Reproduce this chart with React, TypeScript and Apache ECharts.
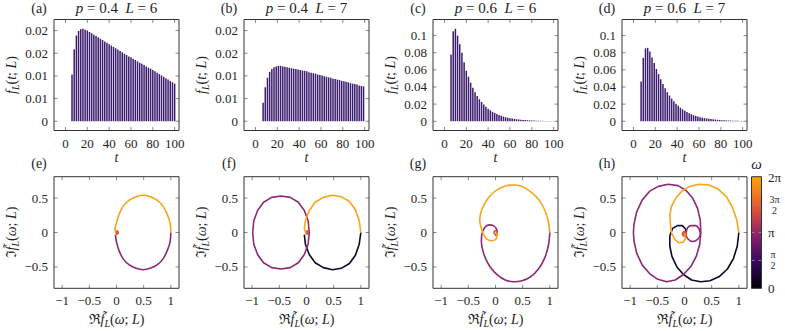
import React, { useEffect, useRef } from 'react';
import * as echarts from 'echarts';

const FONT = '"Liberation Serif", "DejaVu Serif", serif';
const TXT = '#1e1e1e';
const TICK = '#8a8a8a';
const FRAME = '#333333';

// ---- top row data: first-passage time distributions ----
const evenT = [6, 8, 10, 12, 14, 16, 18, 20, 22, 24, 26, 28, 30, 32, 34, 36, 38, 40, 42, 44, 46, 48, 50, 52, 54, 56, 58, 60, 62, 64, 66, 68, 70, 72, 74, 76, 78, 80, 82, 84, 86, 88, 90, 92, 94, 96, 98, 100];
const oddT = [7, 9, 11, 13, 15, 17, 19, 21, 23, 25, 27, 29, 31, 33, 35, 37, 39, 41, 43, 45, 47, 49, 51, 53, 55, 57, 59, 61, 63, 65, 67, 69, 71, 73, 75, 77, 79, 81, 83, 85, 87, 89, 91, 93, 95, 97, 99];

const fA = [0.0103, 0.0159, 0.0189, 0.0199, 0.0203, 0.0204, 0.0202, 0.0200, 0.0197, 0.0194, 0.0191, 0.0188, 0.0185, 0.0182, 0.0179, 0.0176, 0.0173, 0.0170, 0.0167, 0.0164, 0.0161, 0.0158, 0.0155, 0.0152, 0.0149, 0.0146, 0.0143, 0.0141, 0.0138, 0.0135, 0.0132, 0.0129, 0.0127, 0.0124, 0.0121, 0.0118, 0.0116, 0.0113, 0.0110, 0.0107, 0.0104, 0.0101, 0.0098, 0.0095, 0.0092, 0.0089, 0.0086, 0.0083];
const fB = [0.0041, 0.0075, 0.0096, 0.0109, 0.0115, 0.0119, 0.0121, 0.0122, 0.0122, 0.0121, 0.0120, 0.0119, 0.0118, 0.0117, 0.0116, 0.0115, 0.0114, 0.0113, 0.0112, 0.0111, 0.0110, 0.0108, 0.0107, 0.0106, 0.0105, 0.0103, 0.0102, 0.0101, 0.0099, 0.0098, 0.0097, 0.0096, 0.0094, 0.0093, 0.0092, 0.0091, 0.0089, 0.0088, 0.0087, 0.0086, 0.0084, 0.0083, 0.0082, 0.0081, 0.0079, 0.0078, 0.0077];
const fC = [0.078, 0.105, 0.108, 0.100, 0.090, 0.080, 0.069, 0.059, 0.052, 0.045, 0.039, 0.034, 0.0295, 0.0257, 0.0224, 0.0195, 0.0169, 0.0147, 0.0128, 0.0111, 0.0097, 0.0084, 0.0073, 0.0063, 0.0055, 0.0048, 0.0042, 0.0036, 0.0031, 0.0027, 0.0024, 0.0021, 0.0018, 0.0016, 0.0014, 0.0012, 0.0010, 0.0009, 0.0008, 0.0007, 0.0006, 0.0005, 0.00045, 0.0004, 0.00035, 0.0003, 0.00026, 0.00022];
const fD = [0.0465, 0.074, 0.085, 0.0857, 0.0814, 0.0745, 0.068, 0.061, 0.055, 0.049, 0.0435, 0.0385, 0.034, 0.030, 0.0265, 0.0233, 0.0205, 0.018, 0.0158, 0.0139, 0.0122, 0.0107, 0.0094, 0.0082, 0.0072, 0.0063, 0.0055, 0.0048, 0.0042, 0.0037, 0.0032, 0.0028, 0.0025, 0.0022, 0.0019, 0.0017, 0.0015, 0.0013, 0.0011, 0.0010, 0.0009, 0.0008, 0.0007, 0.0006, 0.0005, 0.00045, 0.0004];

// ---- tick values / labels ----
const xTicksTop = [0, 20, 40, 60, 80, 100];
const xLabelsTop = ['0', '20', '40', '60', '80', '100'];
const yTicksAB = [0, 0.005, 0.01, 0.015, 0.02];
const yLabelsAB = ['0', '0.01', '0.01', '0.02', '0.02'];
const yTicksCD = [0, 0.02, 0.04, 0.06, 0.08, 0.1];
const yLabelsCD = ['0', '0.02', '0.04', '0.06', '0.08', '0.1'];
const xTicksBot = [-1, -0.5, 0, 0.5, 1];
const xLabelsBot = ['\u22121', '\u22120.5', '0', '0.5', '1'];
const yTicksBot = [-0.5, 0, 0.5];
const yLabelsBot = ['\u22120.5', '0', '0.5'];
const cbTicks = [1, 2, 3]; // quarter turns: π/2, π, 3π/2

// ---- bottom row: parametric curves, coloured by omega ----
const C_BLACK = '#0c0826';
const C_MAG = '#8d2872';
const C_RED = '#e2572f';
const C_ORANGE = '#f9a41b';

const eMag = [[-0.02, -0.03], [0.0, -0.14], [0.05, -0.27], [0.13, -0.39], [0.235, -0.47], [0.36, -0.52], [0.49, -0.54], [0.62, -0.52], [0.745, -0.47], [0.85, -0.39], [0.93, -0.27], [0.985, -0.14], [1.0, 0.0]];
const eOrange = [[1.0, 0.0], [0.985, 0.14], [0.93, 0.27], [0.85, 0.39], [0.745, 0.47], [0.62, 0.52], [0.49, 0.54], [0.36, 0.52], [0.235, 0.47], [0.13, 0.39], [0.05, 0.27], [0.0, 0.14], [-0.03, 0.05], [-0.01, 0.0]];
const eRed = [[-0.01, 0.0], [0.01, 0.02], [0.03, 0.0], [0.01, -0.02], [-0.01, 0.0]];

const fBlack = [[1.0, 0.0], [0.97, -0.17], [0.9, -0.33], [0.79, -0.45], [0.64, -0.52], [0.48, -0.54], [0.31, -0.51], [0.16, -0.44], [0.05, -0.32], [-0.02, -0.17], [-0.04, -0.03]];
const fMag = [[0.05, 0.0], [0.03, 0.17], [-0.04, 0.32], [-0.15, 0.44], [-0.3, 0.51], [-0.47, 0.53], [-0.64, 0.51], [-0.79, 0.44], [-0.9, 0.32], [-0.97, 0.17], [-0.99, 0.0], [-0.97, -0.17], [-0.9, -0.32], [-0.79, -0.44], [-0.64, -0.51], [-0.47, -0.53], [-0.3, -0.51], [-0.15, -0.44], [-0.04, -0.32], [0.03, -0.17], [0.05, 0.0]];
const fOrange = [[-0.01, 0.0], [-0.04, 0.05], [-0.02, 0.17], [0.05, 0.32], [0.16, 0.44], [0.31, 0.51], [0.48, 0.54], [0.64, 0.52], [0.79, 0.45], [0.9, 0.33], [0.97, 0.17], [1.0, 0.0]];
const fRed = [[-0.01, 0.0], [0.01, 0.02], [0.03, 0.0], [0.01, -0.02], [-0.01, 0.0]];

const gMag = [[1.0, 0.0], [0.97, -0.2], [0.9, -0.38], [0.79, -0.53], [0.65, -0.64], [0.49, -0.7], [0.33, -0.715], [0.18, -0.69], [0.04, -0.62], [-0.08, -0.52], [-0.17, -0.4], [-0.23, -0.27], [-0.26, -0.13], [-0.25, -0.02], [-0.2, 0.07], [-0.12, 0.11], [-0.04, 0.1], [0.02, 0.05], [0.03, -0.01], [0.0, -0.05]];
const gRed = [[0.03, 0.0], [0.0, 0.03], [-0.03, 0.0], [0.0, -0.03], [0.03, 0.0]];
const gOrange = [[0.03, 0.0], [0.02, -0.08], [-0.06, -0.12], [-0.15, -0.1], [-0.22, -0.03], [-0.26, 0.06], [-0.29, 0.17], [-0.27, 0.29], [-0.2, 0.42], [-0.09, 0.54], [0.05, 0.63], [0.2, 0.68], [0.33, 0.69], [0.48, 0.67], [0.63, 0.6], [0.77, 0.5], [0.88, 0.37], [0.96, 0.2], [1.0, 0.0]];

const hBlack = [[1.0, 0.0], [0.97, -0.2], [0.9, -0.38], [0.79, -0.53], [0.64, -0.64], [0.47, -0.7], [0.3, -0.715], [0.13, -0.69], [-0.02, -0.61], [-0.14, -0.5], [-0.23, -0.35], [-0.27, -0.2], [-0.27, -0.05], [-0.22, 0.06], [-0.13, 0.1], [-0.04, 0.1], [0.02, 0.05], [0.03, -0.02]];
const hMagSmall = [[0.03, -0.02], [0.05, 0.06], [0.12, 0.1], [0.2, 0.1], [0.27, 0.05], [0.29, -0.03], [0.24, -0.1], [0.15, -0.13], [0.06, -0.09], [0.02, -0.02]];
const hMagBig = [[0.3, 0.0], [0.29, 0.18], [0.24, 0.35], [0.15, 0.5], [0.03, 0.61], [-0.12, 0.68], [-0.3, 0.7], [-0.48, 0.67], [-0.64, 0.6], [-0.78, 0.47], [-0.88, 0.3], [-0.93, 0.12], [-0.94, 0.0], [-0.93, -0.12], [-0.88, -0.3], [-0.78, -0.47], [-0.64, -0.6], [-0.49, -0.68], [-0.33, -0.715], [-0.17, -0.69], [-0.02, -0.61], [0.12, -0.49], [0.22, -0.34], [0.28, -0.17], [0.3, 0.0]];
const hOrange = [[0.0, -0.02], [0.02, -0.08], [-0.02, -0.14], [-0.1, -0.15], [-0.18, -0.1], [-0.24, 0.0], [-0.26, 0.12], [-0.27, 0.25], [-0.24, 0.38], [-0.16, 0.5], [-0.05, 0.6], [0.1, 0.67], [0.27, 0.7], [0.45, 0.69], [0.62, 0.63], [0.77, 0.52], [0.88, 0.37], [0.96, 0.19], [1.0, 0.0]];
const hRed = [[0.03, -0.02], [0.0, 0.01], [-0.03, -0.02], [0.0, -0.05], [0.03, -0.02]];

// ---- layout ----
const LEFTS = [54, 244, 433, 622];
const BOX_W = 125;
const ROWS = [{ top: 19.5, height: 111 }, { top: 176.7, height: 111.6 }];
const X_TOP = [-10.5, 104];
const Y_AB = [-0.00204, 0.02244];
const Y_CD = [-0.0108, 0.1188];
const X_BOT = [-1.15, 1.15];
const Y_BOT = [-0.81, 0.81];
const TICK_PX = 3.5;
const CB = { x: 751.5, w: 10 };

const RICH: any = {
  i: { fontFamily: FONT, fontStyle: 'italic', fontSize: 14, color: TXT, lineHeight: 18, verticalAlign: 'middle' },
  r: { fontFamily: FONT, fontSize: 14, color: TXT, lineHeight: 18, verticalAlign: 'middle' },
  s: { fontFamily: FONT, fontStyle: 'italic', fontSize: 10, color: TXT, verticalAlign: 'bottom' },
};

const NAME_T = '{i|t}';
const NAME_F = '{i|f}{s|L}{r|(}{i|t}{r|; }{i|L}{r|)}';
const NAME_RE = '{r|\u211C}{i|f\u0303}{s|L}{r|(}{i|\u03C9}{r|; }{i|L}{r|)}';
const NAME_IM = '{r|\u2111}{i|f\u0303}{s|L}{r|(}{i|\u03C9}{r|; }{i|L}{r|)}';

const fmt = (ticks: number[], labels: string[]) => (v: number) => {
  let best = 0;
  for (let k = 0; k < ticks.length; k++) if (Math.abs(ticks[k] - v) < Math.abs(ticks[best] - v)) best = k;
  return labels[best];
};

type Panel = {
  tag: string; row: number; col: number; title?: string;
  bars?: { t: number[]; v: number[] }; yr: number[]; curves?: { pts: number[][]; color: string; smooth: boolean; w?: number }[];
};

const PANELS: Panel[] = [
  { tag: '(a)', row: 0, col: 0, title: '{i|p} = 0.4  {i|L} = 6', bars: { t: evenT, v: fA }, yr: Y_AB },
  { tag: '(b)', row: 0, col: 1, title: '{i|p} = 0.4  {i|L} = 7', bars: { t: oddT, v: fB }, yr: Y_AB },
  { tag: '(c)', row: 0, col: 2, title: '{i|p} = 0.6  {i|L} = 6', bars: { t: evenT, v: fC }, yr: Y_CD },
  { tag: '(d)', row: 0, col: 3, title: '{i|p} = 0.6  {i|L} = 7', bars: { t: oddT, v: fD }, yr: Y_CD },
  { tag: '(e)', row: 1, col: 0, yr: Y_BOT, curves: [
    { pts: eMag, color: C_MAG, smooth: true }, { pts: eRed, color: C_RED, smooth: true, w: 2 }, { pts: eOrange, color: C_ORANGE, smooth: true }] },
  { tag: '(f)', row: 1, col: 1, yr: Y_BOT, curves: [
    { pts: fBlack, color: C_BLACK, smooth: false }, { pts: fMag, color: C_MAG, smooth: false }, { pts: fRed, color: C_RED, smooth: true, w: 2 }, { pts: fOrange, color: C_ORANGE, smooth: false }] },
  { tag: '(g)', row: 1, col: 2, yr: Y_BOT, curves: [
    { pts: gMag, color: C_MAG, smooth: true }, { pts: gRed, color: C_RED, smooth: true, w: 1.6 }, { pts: gOrange, color: C_ORANGE, smooth: true }] },
  { tag: '(h)', row: 1, col: 3, yr: Y_BOT, curves: [
    { pts: hBlack, color: C_BLACK, smooth: false }, { pts: hMagSmall, color: C_MAG, smooth: true }, { pts: hMagBig, color: C_MAG, smooth: false },
    { pts: hRed, color: C_RED, smooth: true, w: 2.5 }, { pts: hOrange, color: C_ORANGE, smooth: false }] },
];

const ticksOf = (p: Panel) => {
  const isTop = p.row === 0;
  return {
    xr: isTop ? X_TOP : X_BOT,
    xt: isTop ? xTicksTop : xTicksBot,
    xl: isTop ? xLabelsTop : xLabelsBot,
    yt: isTop ? (p.yr === Y_AB ? yTicksAB : yTicksCD) : yTicksBot,
    yl: isTop ? (p.yr === Y_AB ? yLabelsAB : yLabelsCD) : yLabelsBot,
  };
};

// a plain polyline drawn as an ordinary line series (frames, ticks, rules)
const rule = (idx: number, pts: number[][], color: string, width: number) => ({
  type: 'line', xAxisIndex: idx, yAxisIndex: idx, data: pts, showSymbol: false, symbol: 'none',
  clip: false, silent: true, z: 5, lineStyle: { color, width, opacity: 1 },
});

function buildOption() {
  const grid: any[] = [];
  const xAxis: any[] = [];
  const yAxis: any[] = [];
  const series: any[] = [];
  const graphic: any[] = [];

  PANELS.forEach((p, i) => {
    const row = ROWS[p.row];
    const left = LEFTS[p.col];
    grid.push({ left, top: row.top, width: BOX_W, height: row.height });
    const isTop = p.row === 0;
    const { xr, xt, xl, yt, yl } = ticksOf(p);
    const yr = p.yr;
    const label = () => ({ fontFamily: FONT, fontSize: 13, color: TXT, margin: 6 });

    xAxis.push({
      gridIndex: i, type: 'value', position: 'bottom', min: xr[0], max: xr[1],
      axisLine: { show: false, onZero: false }, splitLine: { show: false }, axisTick: { show: false },
      axisLabel: { ...label(), customValues: xt, formatter: fmt(xt, xl) },
      name: isTop ? NAME_T : NAME_RE, nameLocation: 'middle', nameGap: isTop ? 18 : 22,
      nameTextStyle: { rich: RICH },
    });
    yAxis.push({
      gridIndex: i, type: 'value', position: 'left', min: yr[0], max: yr[1],
      axisLine: { show: false, onZero: false }, splitLine: { show: false }, axisTick: { show: false },
      axisLabel: { ...label(), customValues: yt, formatter: fmt(yt, yl) },
      name: isTop ? NAME_F : NAME_IM, nameLocation: 'middle', nameGap: 34, nameRotate: 90,
      nameTextStyle: { rich: RICH },
    });

    if (p.bars) {
      const b = p.bars;
      series.push({
        type: 'bar', xAxisIndex: i, yAxisIndex: i, clip: false,
        data: b.t.map((t, k) => [t, b.v[k]]),
        barWidth: 1.5,
        itemStyle: { color: '#3b1c6e' },
      });
    }
    if (p.curves) {
      p.curves.forEach((c) => {
        series.push({
          type: 'line', xAxisIndex: i, yAxisIndex: i, clip: false,
          data: c.pts, showSymbol: false, symbol: 'none', smooth: c.smooth ? 0.35 : false,
          lineStyle: { color: c.color, width: c.w ?? 1.6 },
        });
      });
    }

    // inside ticks on all four sides (tick length converted to this panel's data units)
    const dx = (TICK_PX * (xr[1] - xr[0])) / BOX_W;
    const dy = (TICK_PX * (yr[1] - yr[0])) / row.height;
    xt.forEach((v) => {
      series.push(rule(i, [[v, yr[0]], [v, yr[0] + dy]], TICK, 1));
      series.push(rule(i, [[v, yr[1] - dy], [v, yr[1]]], TICK, 1));
    });
    yt.forEach((v) => {
      series.push(rule(i, [[xr[0], v], [xr[0] + dx, v]], TICK, 1));
      series.push(rule(i, [[xr[1] - dx, v], [xr[1], v]], TICK, 1));
    });
    // frame
    series.push(rule(i, [[xr[0], yr[0]], [xr[1], yr[0]], [xr[1], yr[1]], [xr[0], yr[1]], [xr[0], yr[0]]], FRAME, 1));

    // panel tag and title
    graphic.push({
      type: 'text', x: left - 15, y: isTop ? 8 : 163,
      style: { text: p.tag, fontFamily: FONT, fontSize: 14, fill: TXT, align: 'center', verticalAlign: 'middle' },
    });
    if (p.title) {
      graphic.push({
        type: 'text', x: left + BOX_W / 2, y: 8,
        style: { text: p.title, rich: { i: { fontFamily: FONT, fontStyle: 'italic', fontSize: 15, fill: TXT } }, fontFamily: FONT, fontSize: 15, fill: TXT, align: 'center', verticalAlign: 'middle' },
      });
    }
  });

  // colour bar: its own hidden coordinate system (x 0..1, y 0..4 quarter turns of omega)
  const cbTop = ROWS[1].top, cbH = ROWS[1].height;
  const ci = PANELS.length;
  grid.push({ left: CB.x, top: cbTop, width: CB.w, height: cbH });
  xAxis.push({ gridIndex: ci, type: 'value', min: 0, max: 1, show: false });
  yAxis.push({ gridIndex: ci, type: 'value', min: 0, max: 4, show: false });
  graphic.push({
    type: 'rect', shape: { x: CB.x, y: cbTop, width: CB.w, height: cbH },
    style: {
      fill: new echarts.graphic.LinearGradient(0, 1, 0, 0, [
        { offset: 0, color: '#000004' },
        { offset: 0.25, color: '#3a0963' },
        { offset: 0.5, color: '#942469' },
        { offset: 0.75, color: '#e65d2f' },
        { offset: 1, color: '#fca50a' },
      ]),
    },
  });
  cbTicks.forEach((q) => {
    series.push(rule(ci, [[0, q], [0.3, q]], TICK, 1));
    series.push(rule(ci, [[0.7, q], [1, q]], TICK, 1));
  });
  series.push(rule(ci, [[0, 0], [1, 0], [1, 4], [0, 4], [0, 0]], FRAME, 1));
  // fraction rules for the 3π/2 and π/2 labels
  series.push(rule(ci, [[1.65, 3], [2.95, 3]], TXT, 0.8));
  series.push(rule(ci, [[1.7, 1], [2.6, 1]], TXT, 0.8));

  const lx = 768;
  const txt = (text: string, x: number, y: number, size: number, italic = false, align = 'left') => ({
    type: 'text', x, y, style: { text, fontFamily: FONT, fontSize: size, fontStyle: italic ? 'italic' : 'normal', fill: TXT, align, verticalAlign: 'middle' },
  });
  graphic.push(txt('2\u03C0', lx, cbTop + 1, 13));
  graphic.push(txt('\u03C0', lx, cbTop + cbH * 0.5, 13));
  graphic.push(txt('0', lx, cbTop + cbH, 13));
  const y34 = cbTop + cbH * 0.25;
  graphic.push(txt('3\u03C0', lx + 6.5, y34 - 5.5, 10, false, 'center'));
  graphic.push(txt('2', lx + 6.5, y34 + 5.5, 10, false, 'center'));
  const y14 = cbTop + cbH * 0.75;
  graphic.push(txt('\u03C0', lx + 5, y14 - 5.5, 10, false, 'center'));
  graphic.push(txt('2', lx + 5, y14 + 5.5, 10, false, 'center'));
  graphic.push(txt('\u03C9', CB.x + CB.w / 2, cbTop - 13, 15, true, 'center'));

  return { animation: false, grid, xAxis, yAxis, series, graphic };
}

export default function App() {
  const ref = useRef<HTMLDivElement>(null);
  useEffect(() => {
    if (!ref.current) return;
    const chart = echarts.init(ref.current, null, { renderer: 'svg' });
    chart.setOption(buildOption() as any);
    return () => chart.dispose();
  }, []);
  return <div ref={ref} style={{ position: 'absolute', left: 0, top: 0, width: 785, height: 331 }} />;
}
